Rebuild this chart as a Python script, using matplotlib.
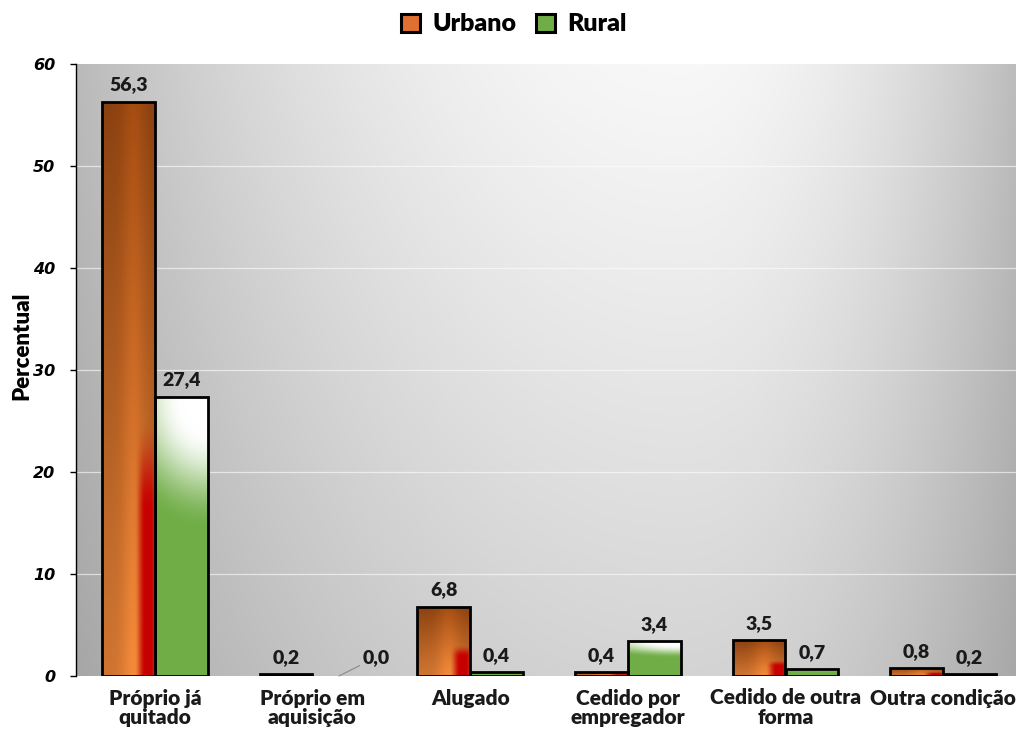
import matplotlib
matplotlib.use("Agg")
import matplotlib.pyplot as plt
import numpy as np
from matplotlib.patches import Rectangle, Patch

categorias = ["Próprio já\nquitado", "Próprio em\naquisição", "Alugado",
              "Cedido por\nempregador", "Cedido de outra\nforma", "Outra condição"]
urbano = [56.3, 0.2, 6.8, 0.4, 3.5, 0.8]
rural = [27.4, 0.0, 0.4, 3.4, 0.7, 0.2]
yticks = [0, 10, 20, 30, 40, 50, 60]

LABEL_FONT = "Lato"


def smooth(e0, e1, x):
    t = np.clip((x - e0) / (e1 - e0), 0, 1)
    return t * t * (3 - 2 * t)


def grad_urbano(n=120):
    v, u = np.mgrid[1:0:n * 1j, 0:1:n * 1j]          # v=1 topo
    c_top = np.array([0.62, 0.29, 0.07])
    c_bot = np.array([0.92, 0.52, 0.22])
    base = c_bot + (c_top - c_bot) * (v[..., None] ** 1.1)
    stripe = 0.88 + 0.16 * np.exp(-((u - 0.6) / 0.22) ** 2)
    img = np.clip(base * stripe[..., None], 0, 1)
    red = smooth(0.62, 0.82, u) * smooth(0.45, 0.28, v)
    red *= 1 - 0.3 * smooth(0.93, 1.0, u)
    img = img * (1 - red[..., None]) + np.array([0.78, 0.0, 0.0]) * red[..., None]
    return img


def grad_rural(n=120):
    v, u = np.mgrid[1:0:n * 1j, 0:1:n * 1j]
    green = np.array([0.44, 0.68, 0.28])
    d = np.sqrt((0.25 * (1 - u)) ** 2 + (1 - v) ** 2)
    w = smooth(0.48, 0.12, d)
    return green * (1 - w[..., None]) + np.ones(3) * w[..., None]


def fundo(nx=400, ny=300):
    y, x = np.mgrid[1:0:ny * 1j, 0:1:nx * 1j]       # y=1 topo
    cx = 0.64
    h = np.where(x < cx, (cx - x) / cx, (x - cx) / (1 - cx)) ** 2
    val = 0.97 - 0.24 * h - 0.14 * (1 - y) ** 1.1 * (1 - 0.45 * h)
    val = np.clip(val, 0, 1)
    return np.dstack([val, val, val])


fig = plt.figure(figsize=(10.16, 7.39), dpi=100)
ax = fig.add_axes([76 / 1016, 63 / 739, 946 / 1016, 612 / 739])

xs = np.arange(len(categorias))
w = 0.336
ymax = 60
xlim = (-0.5, 5.5)

ax.imshow(fundo(), extent=(xlim[0], xlim[1], 0, ymax), aspect="auto", zorder=0)
for yt in yticks[1:-1]:
    ax.axhline(yt, color="white", lw=0.9, alpha=0.6, zorder=1)

img_u, img_r = grad_urbano(), grad_rural()
for x, hu, hr in zip(xs, urbano, rural):
    for x0, h, img in [(x - w, hu, img_u), (x, hr, img_r)]:
        if h <= 0:
            continue
        rect = Rectangle((x0, 0), w, h, facecolor="none", edgecolor="black",
                         lw=2.0, zorder=4)
        ax.add_patch(rect)
        im = ax.imshow(img, extent=(x0, x0 + w, 0, h), aspect="auto",
                       zorder=3, interpolation="bilinear")
        im.set_clip_path(rect)

lbl = dict(ha="center", va="bottom", fontsize=14, fontweight="heavy",
           family=LABEL_FONT, color="#1a1a1a", zorder=6)
for x, hu, hr in zip(xs, urbano, rural):
    ax.text(x - w / 2, hu + 0.8, f"{hu:.1f}".replace(".", ","), **lbl)
    if hr > 0:
        ax.text(x + w / 2, hr + 0.8, f"{hr:.1f}".replace(".", ","), **lbl)
    else:
        ax.annotate(f"{hr:.1f}".replace(".", ","), xy=(x + w / 2, 0),
                    xytext=(x + w * 1.2, 1.0),
                    arrowprops=dict(arrowstyle="-", color="#8a8a8a", lw=0.8,
                                    shrinkA=0, shrinkB=0),
                    **lbl)

ax.set_xlim(*xlim)
ax.set_ylim(0, ymax)
ax.set_xticks(xs)
ax.set_xticklabels(categorias, fontsize=15, fontweight="heavy", family=LABEL_FONT,
                   color="#1a1a1a", linespacing=1.05)
ax.tick_params(axis="x", length=0, pad=9)
ax.set_yticks(yticks)
ax.set_yticklabels([str(t) for t in yticks], fontsize=11.5, fontweight="bold",
                   style="italic", family="DejaVu Sans")
ax.tick_params(axis="y", length=4, width=1, direction="out", pad=11)
for s in ["top", "right", "bottom"]:
    ax.spines[s].set_visible(False)
ax.spines["left"].set_linewidth(1.0)
ax.set_ylabel("Percentual", fontsize=16, fontweight="heavy", family=LABEL_FONT)
ax.yaxis.set_label_coords(-0.046, 0.54)

handles = [Patch(facecolor="#e07030", edgecolor="black", lw=2.2, label="Urbano"),
           Patch(facecolor="#70ad47", edgecolor="black", lw=2.2, label="Rural")]
fig.legend(handles=handles, loc="center", bbox_to_anchor=(0.506, 0.967), ncol=2,
           frameon=False, handlelength=0.75, handleheight=0.75, handletextpad=0.5,
           columnspacing=0.8, prop=dict(family=LABEL_FONT, weight="heavy", size=18))

fig.savefig("out.png", dpi=100)
